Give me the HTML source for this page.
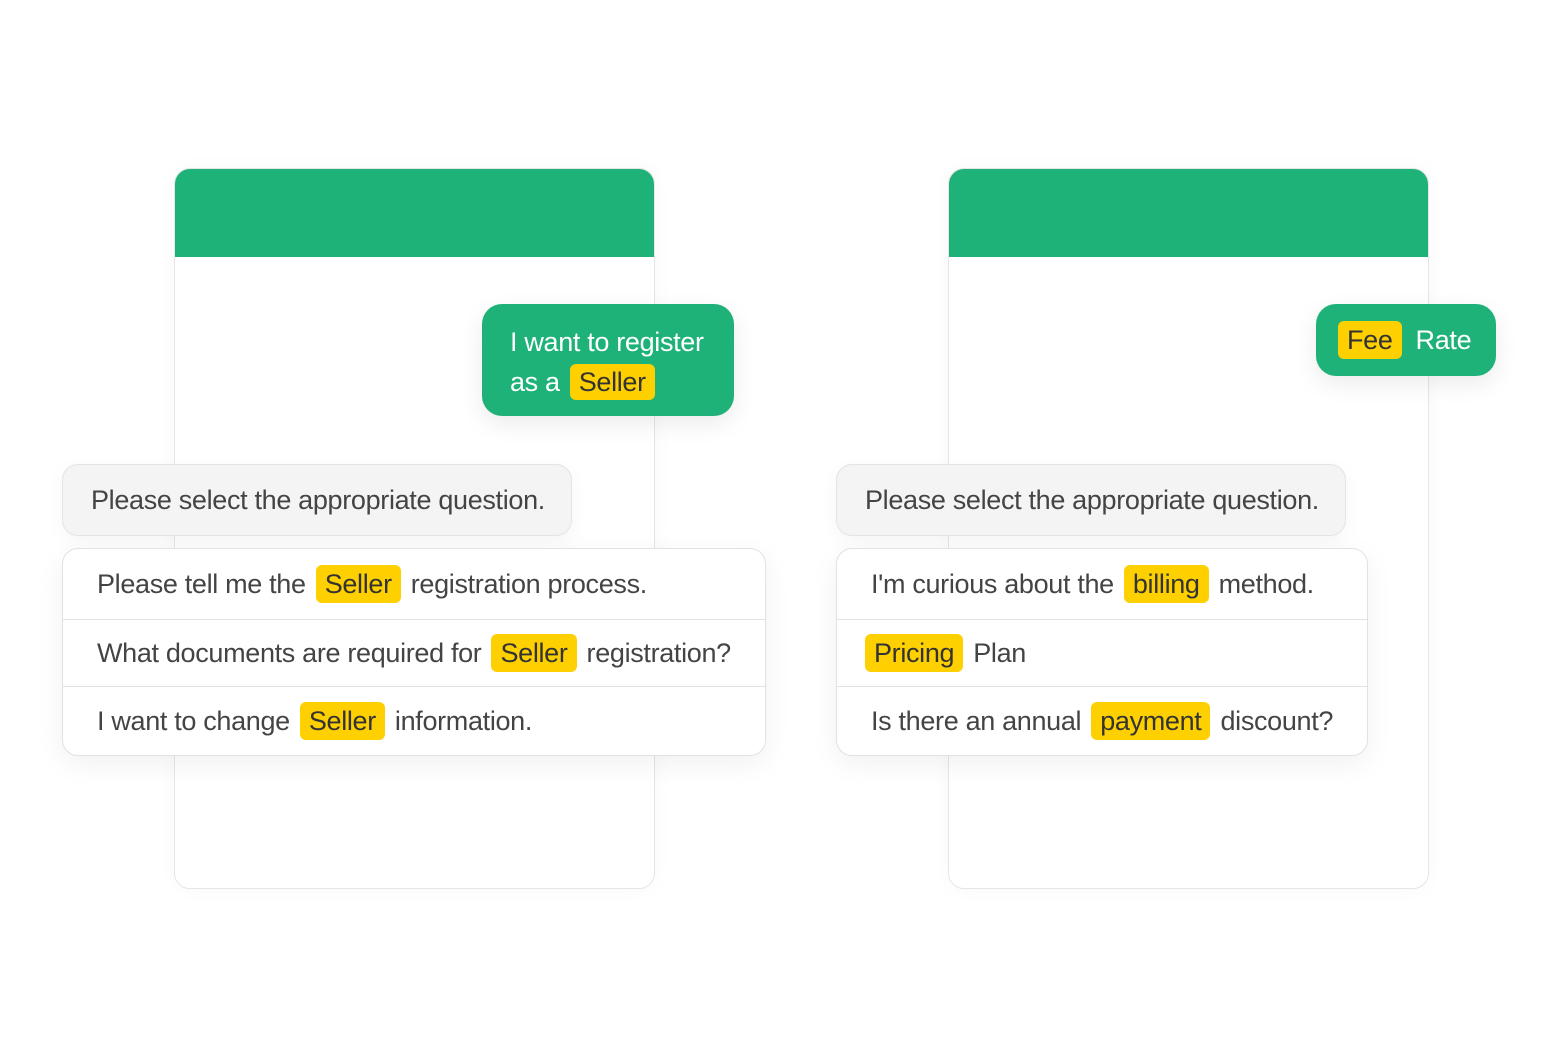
<!DOCTYPE html>
<html><head><style>
*{margin:0;padding:0;box-sizing:border-box}
body{width:1556px;height:1056px;background:#fff;position:relative;overflow:hidden;font-family:"Liberation Sans",sans-serif;color:#444;letter-spacing:-0.33px}
.abs{position:absolute}
.phone{border:1px solid #e6e6e6;border-radius:16px;background:#fff;overflow:hidden;box-shadow:0 0 20px rgba(0,0,0,0.03)}
.phone .hd{height:88px;background:#1eb278}
.green{background:#1eb278;color:#fff;border-radius:20px;box-shadow:0 8px 24px rgba(0,0,0,0.08);font-size:27px}
.gray{background:#f4f4f4;border:1px solid #e4e4e4;border-radius:16px;font-size:27px;display:flex;align-items:center;padding-left:28px;box-shadow:0 6px 20px rgba(0,0,0,0.04)}
.list{background:#fff;border:1px solid #e2e2e2;border-radius:16px;box-shadow:0 8px 28px rgba(0,0,0,0.06);font-size:27px}
.row{display:flex;align-items:center;padding-left:34px;white-space:pre}
.row+.row{border-top:1px solid #e2e2e2}
.hl{background:#ffd000;color:#333;border-radius:6px;padding:0 9px;height:38px;line-height:38px;display:inline-block;margin:0 10px}
</style></head><body>
<div class="abs phone" style="left:174px;top:168px;width:481px;height:721px"><div class="hd"></div></div>
<div class="abs phone" style="left:948px;top:168px;width:481px;height:721px"><div class="hd"></div></div>

<div class="abs green" style="left:482px;top:304px;width:252px;height:112px;padding:18px 0 0 28px;line-height:40px">I want to register<br>as a<span class="hl" style="height:36px;line-height:36px;margin-left:10px">Seller</span></div>

<div class="abs green" style="left:1316px;top:304px;width:180px;height:72px;display:flex;align-items:center;padding-left:22px"><span class="hl" style="margin:0 14px 0 0">Fee</span>Rate</div>

<div class="abs gray" style="left:62px;top:464px;width:510px;height:72px">Please select the appropriate question.</div>
<div class="abs gray" style="left:836px;top:464px;width:510px;height:72px">Please select the appropriate question.</div>

<div class="abs list" style="left:62px;top:548px;width:704px;height:208px">
<div class="row" style="height:70px">Please tell me the<span class="hl">Seller</span>registration process.</div>
<div class="row" style="height:67px">What documents are required for<span class="hl">Seller</span>registration?</div>
<div class="row" style="height:69px">I want to change<span class="hl">Seller</span>information.</div>
</div>

<div class="abs list" style="left:836px;top:548px;width:532px;height:208px">
<div class="row" style="height:70px">I'm curious about the<span class="hl">billing</span>method.</div>
<div class="row" style="height:67px;padding-left:28px"><span class="hl" style="margin-left:0">Pricing</span>Plan</div>
<div class="row" style="height:69px">Is there an annual<span class="hl">payment</span>discount?</div>
</div>
</body></html>
